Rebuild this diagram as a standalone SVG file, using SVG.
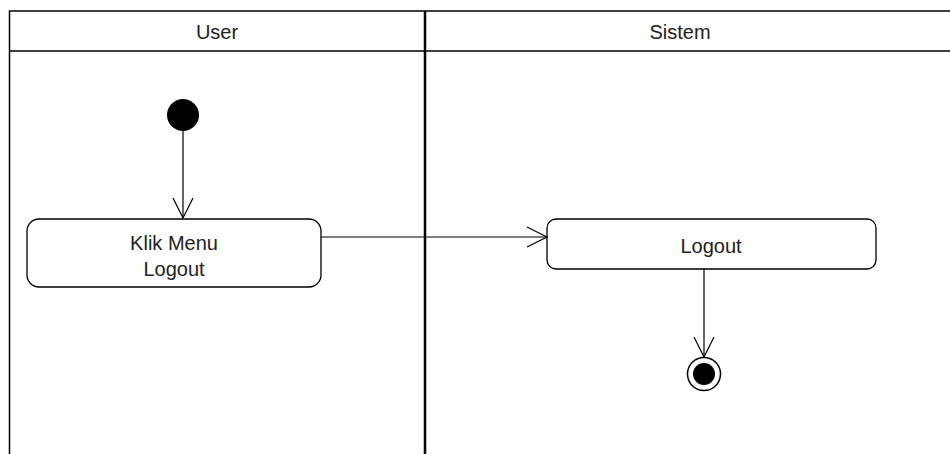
<svg xmlns="http://www.w3.org/2000/svg" width="950" height="454" viewBox="0 0 950 454">
<style>
.lane{fill:none;stroke:#000;stroke-width:1.5}
.act{fill:#fff;stroke:#000;stroke-width:1.3}
.t{font-family:"Liberation Sans",Arial,sans-serif;font-size:20px;fill:#222;text-anchor:middle}
.c{fill:none;stroke:#000;stroke-width:1.2}
</style>
<defs>
<marker id="open" markerWidth="24" markerHeight="24" refX="21" refY="11" orient="auto" markerUnits="userSpaceOnUse">
<path d="M1,1 L21,11 L1,21" fill="none" stroke="#000" stroke-width="1.2"/>
</marker>
</defs>
<rect width="950" height="454" fill="#fff"/>
<g id="lanes">
<path class="lane" d="M9.5,454 V11 H950 M9.5,51 H950"/>
<line x1="425" y1="11" x2="425" y2="454" stroke="#000" stroke-width="2.5"/>
<text class="t" x="217" y="39">User</text>
<text class="t" x="680" y="39">Sistem</text>
</g>
<g id="start"><circle cx="183" cy="115" r="16" fill="#000"/></g>
<g id="klik">
<rect class="act" x="27" y="219" width="294" height="68" rx="12"/>
<text class="t" x="174" y="250">Klik Menu</text>
<text class="t" x="174" y="276">Logout</text>
</g>
<g id="logout">
<rect class="act" x="547" y="219" width="329" height="50" rx="9"/>
<text class="t" x="711" y="253">Logout</text>
</g>
<g id="end">
<circle cx="704" cy="374" r="16.5" fill="#fff" stroke="#000" stroke-width="1.5"/>
<circle cx="704" cy="374" r="11" fill="#000"/>
</g>
<g id="connectors">
<line class="c" x1="183" y1="131" x2="183" y2="218" marker-end="url(#open)"/>
<line class="c" x1="321" y1="237" x2="547" y2="237" marker-end="url(#open)"/>
<line class="c" x1="704" y1="269" x2="704" y2="357" marker-end="url(#open)"/>
</g>
</svg>
